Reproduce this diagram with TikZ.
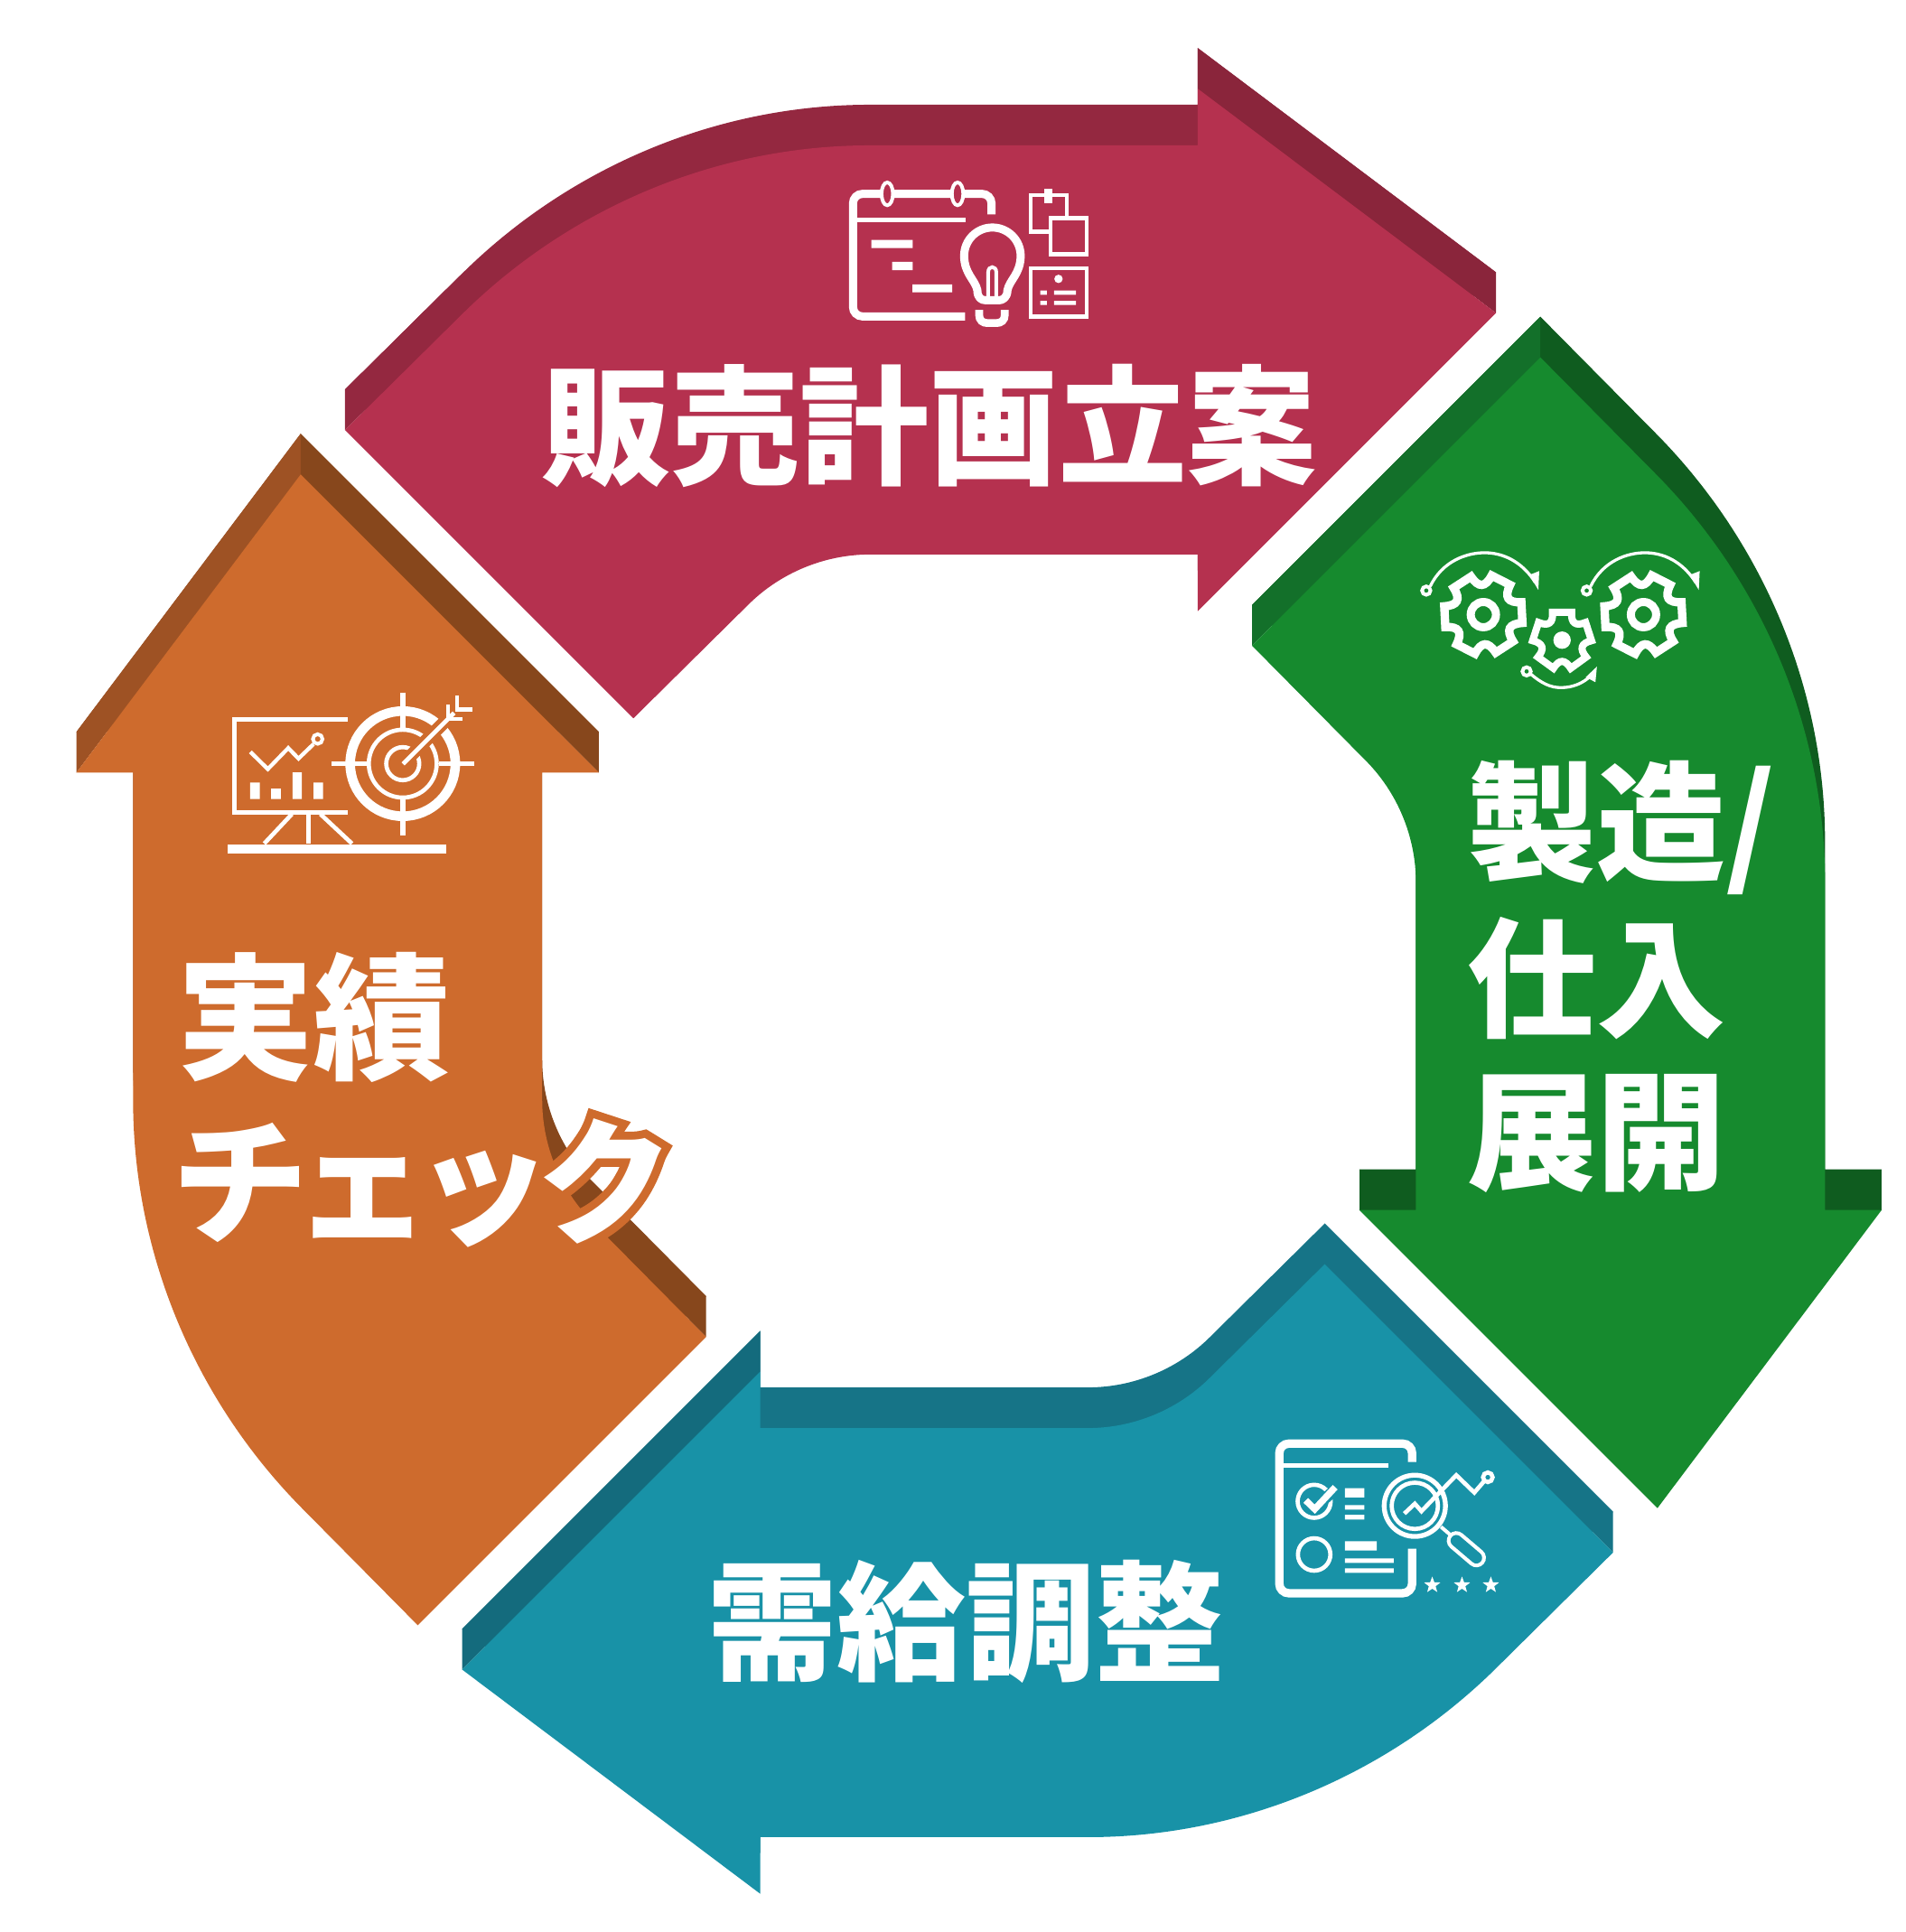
\documentclass[tikz,border=0pt]{standalone}
\usepackage{fontspec}
\newfontfamily\cjk{Noto Sans CJK JP Black}
\usetikzlibrary{shapes.geometric}
\definecolor{redface}{HTML}{B5314F}
\definecolor{redback}{HTML}{942840}
\definecolor{redhead}{HTML}{8A253B}
\definecolor{greenface}{HTML}{168A2E}
\definecolor{greenback}{HTML}{0F5C1F}
\definecolor{greenside}{HTML}{13702A}
\definecolor{blueface}{HTML}{1892A7}
\definecolor{blueback}{HTML}{167487}
\definecolor{blueside}{HTML}{146B7D}
\definecolor{orangeface}{HTML}{CE6B2D}
\definecolor{orangeback}{HTML}{87471C}
\definecolor{orangeside}{HTML}{9E5224}
\tikzset{
  icon/.style={draw=white,line width=#1*0.0945pt,miter limit=8},
  iconfill/.style={fill=white},
  title/.style={text=white,inner sep=0pt,font=\cjk\fontsize{40.7}{40.7}\selectfont},
  bigtitle/.style={text=white,inner sep=0pt,font=\cjk\fontsize{43}{43}\selectfont},
}
% arrow outlines
\def\redarrow{(280,349) -- (373,257) .. controls (461,169) and (581,118) .. (706,118) -- (972,118) -- (972,72) -- (1214,254) -- (972,496) -- (972,450) -- (706,450) .. controls (669,450) and (633,465) .. (607,491) -- (514,583) -- cycle}
\def\greenarrow{(1250,290) -- (1342,383) .. controls (1430,471) and (1481,591) .. (1481,716) -- (1481,982) -- (1527,982) -- (1345,1224) -- (1103,982) -- (1149,982) -- (1149,716) .. controls (1149,679) and (1134,643) .. (1108,617) -- (1016,524) -- cycle}
\def\bluearrow{(1309,1260) -- (1216,1352) .. controls (1128,1440) and (1008,1491) .. (883,1491) -- (617,1491) -- (617,1537) -- (375,1355) -- (617,1113) -- (617,1159) -- (883,1159) .. controls (920,1159) and (956,1144) .. (982,1118) -- (1075,1026) -- cycle}
\def\orangearrow{(339,1319) -- (247,1226) .. controls (159,1138) and (108,1018) .. (108,893) -- (108,627) -- (62,627) -- (244,385) -- (486,627) -- (440,627) -- (440,893) .. controls (440,930) and (455,966) .. (481,992) -- (573,1085) -- cycle}
% gear: centre, teeth, first tooth angle, half span, radius, valley radius, width
\newcommand\gearicon[8]{
  \pgfmathsetmacro\gearstep{360/#3}
  \draw[icon=#8,shift={(#1,#2)}] (#4-#5:#6)
    \foreach \i in {1,...,#3} {
      -- ({#4+(\i-1)*\gearstep+#5}:#6)
      .. controls ({#4+(\i-1)*\gearstep+#5+8}:#7) and ({#4+\i*\gearstep-#5-8}:#7) .. ({#4+\i*\gearstep-#5}:#6)
    } -- cycle;
}
\begin{document}
\begin{tikzpicture}[x=0.013642cm,y=-0.013642cm]
  \useasboundingbox (0,0) rectangle (1546,1568);
  % arrows with their raised backs
  \fill[redback,yshift=0.45cm] \redarrow;
  \fill[redback] (280,349) -- (280,316) -- (373,224) -- (373,257) -- cycle;
  \fill[redhead] (1214,254) -- (1214,221) -- (972,39) -- (972,72) -- cycle;
  \fill[redface] \redarrow;
  \fill[greenback,yshift=0.45cm] \greenarrow;
  \fill[greenside] (1016,524) -- (1016,491) -- (1250,257) -- (1250,290) -- cycle;
  \fill[greenback] (1103,982) -- (1103,949) -- (1149,949) -- (1149,982) -- cycle;
  \fill[greenback] (1481,982) -- (1481,949) -- (1527,949) -- (1527,982) -- cycle;
  \fill[greenface] \greenarrow;
  \fill[blueback,yshift=0.45cm] \bluearrow;
  \fill[blueside] (375,1355) -- (375,1322) -- (617,1080) -- (617,1113) -- cycle;
  \fill[blueback] (1309,1260) -- (1309,1227) -- (1075,993) -- (1075,1026) -- cycle;
  \fill[blueface] \bluearrow;
  \fill[orangeback,yshift=0.45cm] \orangearrow;
  \fill[orangeside] (62,627) -- (62,594) -- (244,352) -- (244,385) -- cycle;
  \fill[orangeback] (486,627) -- (486,594) -- (244,352) -- (244,385) -- cycle;
  \fill[orangeback] (573,1085) -- (573,1052) -- (481,960) -- (481,992) -- cycle;
  \fill[orangeface] \orangearrow;
  % titles
  \node[title] (plantitle) at (754,346) {販売計画立案};
  \node[title] (maketitle) at (1316,672) {製造/};
  \node[title] (puttitle) at (1296,794) {仕入};
  \node[title] (spreadtitle) at (1296,920) {展開};
  \node[title] (fittitle) at (784,1316) {需給調整};
  \node[bigtitle] (resulttitle) at (255,826) {実績};
  \node[bigtitle,text=orangeface] (checkedge) at (343,960) {\addfontfeature{FakeBold=12,LetterSpace=-11}チェック};
  \node[bigtitle] (checktitle) at (343,960) {\addfontfeature{LetterSpace=-11}チェック};
  % plan icon
  \begin{scope}[shift={(674.4,139.3)},x=0.003333cm,y=-0.003333cm]
    \draw[icon=27,rounded corners=3pt] (534,142) -- (534,74) -- (73,74) -- (73,482) -- (446,482);
    \draw[icon=12,fill=redface] (187,74) ellipse (19 and 38);
    \draw[icon=12,fill=redface] (421,74) ellipse (19 and 38);
    \draw[icon=14] (88,160) -- (448,160);
    \fill[iconfill] (134,227) rectangle (272,254) (203,300) rectangle (272,328) (271,375) rectangle (403,402);
    \draw[icon=27,line join=round] (487,395) .. controls (480,360) and (443,340) .. (443,280) .. controls (443,228) and (485,186) .. (537,186) .. controls (589,186) and (631,228) .. (631,280) .. controls (631,340) and (594,360) .. (587,395) .. controls (587,420) and (570,428) .. (560,428) -- (514,428) .. controls (500,428) and (487,420) .. (487,395) -- cycle;
    \draw[icon=12] (523,418) -- (523,335) .. controls (523,312) and (550,312) .. (550,335) -- (550,418);
    \draw[icon=26] (493,460) -- (493,478) .. controls (493,495) and (505,504) .. (520,504) -- (551,504) .. controls (566,504) and (578,495) .. (578,478) -- (578,460);
    \draw[icon=13] (665,78) rectangle (785,200);
    \draw[icon=13,fill=redface] (730,155) rectangle (850,275);
    \fill[iconfill] (710,56) rectangle (738,104);
    \draw[icon=13] (665,322) rectangle (850,482);
    \fill[iconfill] (757,357) circle (14);
    \fill[iconfill] (696,396) rectangle (718,410) (696,430) rectangle (718,444) (742,396) rectangle (815,410) (742,430) rectangle (815,444);
  \end{scope}
  % gear icon
  \begin{scope}[shift={(1136.2,432.5)},x=0.003333cm,y=-0.003333cm]
    \gearicon{277}{272}{6}{237}{15}{133}{90}{28}
    \gearicon{810}{272}{6}{237}{15}{133}{90}{28}
    \gearicon{539}{357}{5}{270}{19}{98}{64}{24}
    \draw[icon=27] (277,272) circle (42);
    \draw[icon=27] (810,272) circle (42);
    \fill[iconfill] (539,357) circle (29);
    \draw[icon=12] (87,192) circle (14);
    \draw[icon=12] (621,192) circle (14);
    \draw[icon=12] (421,461) circle (14);
    \draw[icon=10] (100,178) .. controls (140,95) and (220,65) .. (285,66) .. controls (360,68) and (415,110) .. (450,165);
    \draw[icon=10] (634,178) .. controls (674,95) and (754,65) .. (819,66) .. controls (894,68) and (949,110) .. (984,165);
    \draw[icon=10] (435,470) .. controls (470,500) and (500,515) .. (535,515) .. controls (575,515) and (610,500) .. (635,475);
    \fill[iconfill] (463,127) -- (460,190) -- (430,140) -- cycle;
    \fill[iconfill] (997,127) -- (994,190) -- (964,140) -- cycle;
    \fill[iconfill] (655,445) -- (650,497) -- (618,480) -- cycle;
  \end{scope}
  % check icon
  \begin{scope}[shift={(1018.9,1150.9)},x=0.003333cm,y=-0.003333cm]
    \draw[icon=28,rounded corners=3pt] (521,146) -- (521,85) -- (79,85) -- (79,583) -- (521,583) -- (521,435);
    \draw[icon=16] (92,158) -- (443,158);
    \draw[icon=14] (195,277) circle (55);
    \draw[draw=blueface,line width=3.5pt] (200,295) -- (280,225);
    \draw[icon=22] (167,274) -- (197,303) -- (265,230);
    \fill[iconfill] (297,233) rectangle (362,264) (297,290) rectangle (362,305) (297,322) rectangle (362,338);
    \draw[icon=14] (195,454) circle (54);
    \fill[iconfill] (297,410) rectangle (403,441) (297,467) rectangle (460,482) (297,500) rectangle (460,515);
    \draw[icon=16] (530,292) circle (102);
    \draw[icon=14] (530,292) circle (77);
    \draw[icon=14] (495,318) -- (530,285) -- (552,310) -- (668,190) -- (728,248) -- (765,205);
    \draw[icon=14] (773,197) circle (16);
    \draw[icon=12] (617,362) -- (650,390);
    \draw[draw=white,line width=6pt,line cap=round] (668,408) -- (735,465);
    \draw[draw=blueface,line width=3.6pt,line cap=round] (668,408) -- (735,465);
    \foreach \n/\x in {1/588,2/687,3/783}
      \node[star,star points=5,star point ratio=2.4,fill=white,inner sep=0pt,minimum size=5.4pt] (star\n) at (\x,556) {};
  \end{scope}
  % target icon
  \begin{scope}[shift={(175.9,549.8)},x=0.003333cm,y=-0.003333cm]
    \draw[icon=15] (436,140) -- (58,140) -- (58,448) -- (436,448);
    \fill[iconfill] (37,555) rectangle (763,586);
    \draw[icon=14] (250,455) -- (158,553);
    \draw[icon=14] (345,455) -- (450,553);
    \draw[icon=14] (305,455) -- (305,553);
    \draw[icon=13] (112,248) -- (170,305) -- (238,235) -- (272,270) -- (322,222);
    \draw[icon=12] (336,205) circle (16);
    \fill[iconfill] (111,350) rectangle (143,405) (181,370) rectangle (213,405) (252,316) rectangle (283,405) (322,350) rectangle (354,405);
    \draw[icon=32] (619,287) circle (175);
    \draw[icon=14] (619,287) circle (113);
    \draw[icon=14] (619,287) circle (55);
    \draw[icon=16] (619,50) -- (619,172);
    \draw[icon=16] (619,405) -- (619,525);
    \draw[icon=16] (382,287) -- (500,287);
    \draw[icon=16] (740,287) -- (858,287);
    \draw[draw=orangeface,line width=4pt] (640,266) -- (800,106);
    \draw[icon=14] (620,288) -- (790,118);
    \draw[icon=14] (770,90) -- (770,138) -- (818,138);
    \draw[icon=14] (800,60) -- (800,107) -- (850,107);
  \end{scope}
\end{tikzpicture}
\end{document}
